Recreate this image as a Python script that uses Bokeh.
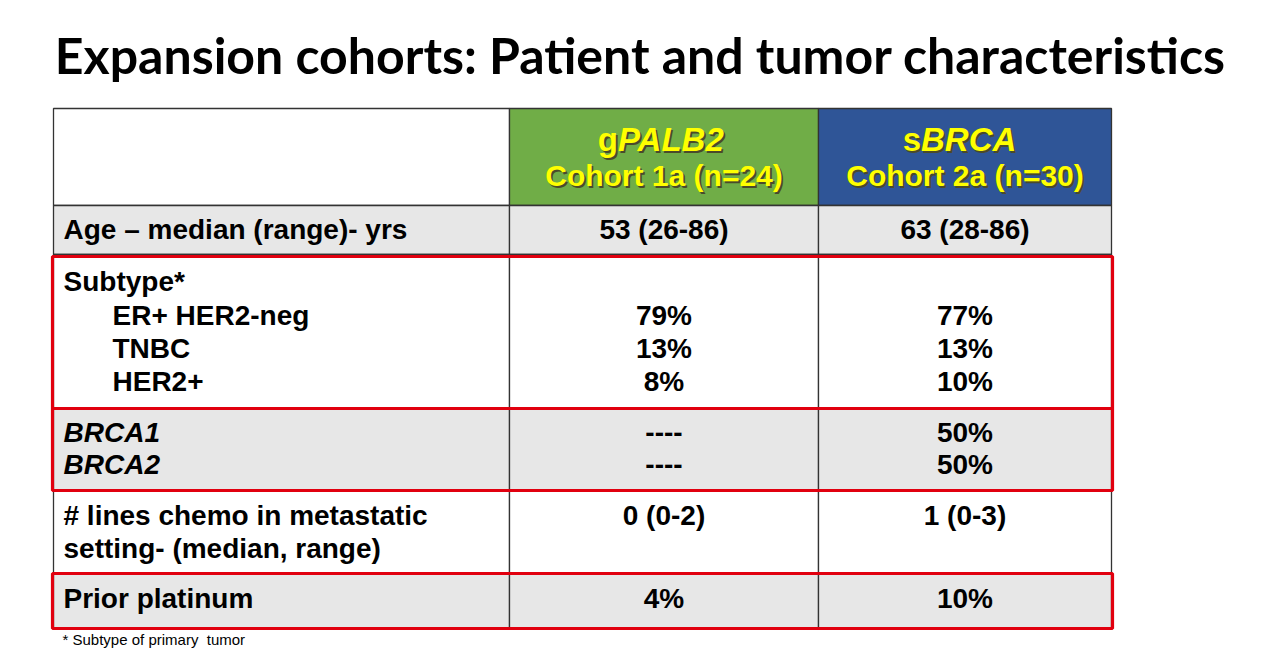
from bokeh.plotting import figure
from bokeh.models import Range1d
from bokeh.core.properties import value
from bokeh.embed import file_html
from bokeh.resources import INLINE

# ---------------- data ----------------
title = "Expansion cohorts: Patient and tumor characteristics"
cohort_prefix = ["g", "s"]
cohort_gene = ["PALB2", "BRCA"]
cohort_sub = ["Cohort 1a (n=24)", "Cohort 2a (n=30)"]
age_label = "Age \u2013 median (range)- yrs"
age_values = ["53 (26-86)", "63 (28-86)"]
subtype_header = "Subtype*"
subtypes = ["ER+ HER2-neg", "TNBC", "HER2+"]
subtype_pct_palb2 = [79, 13, 8]
subtype_pct_sbrca = [77, 13, 10]
brca_genes = ["BRCA1", "BRCA2"]
brca_palb2 = ["----", "----"]
brca_sbrca = [50, 50]
lines_label = ["# lines chemo in metastatic", "setting- (median, range)"]
lines_values = ["0 (0-2)", "1 (0-3)"]
platinum_label = "Prior platinum"
platinum_pct = [4, 10]
footnote = "* Subtype of primary\u00a0 tumor"

# ---------------- layout ----------------
W, H = 1255, 649
p = figure(width=W, height=H, output_backend="svg", toolbar_location=None,
           x_range=Range1d(0, W), y_range=Range1d(H, 0), min_border=0)
p.axis.visible = False
p.grid.visible = False
p.outline_line_color = None
p.background_fill_color = "white"
p.border_fill_color = "white"

col_edges = [53, 509, 818, 1111]
row_edges = [108, 205, 254, 408, 490, 573, 628]
col_c = [(col_edges[1] + col_edges[2]) / 2, (col_edges[2] + col_edges[3]) / 2]

GREY = "#E7E7E7"
row_fill = ["white", GREY, "white", GREY, "white", GREY]
head_fill = ["white", "#70AD47", "#2F5597"]

L, R, T, B, F = [], [], [], [], []
for r in range(len(row_edges) - 1):
    for c in range(len(col_edges) - 1):
        L.append(col_edges[c]); R.append(col_edges[c + 1])
        T.append(row_edges[r]); B.append(row_edges[r + 1])
        F.append(head_fill[c] if r == 0 else row_fill[r])
p.quad(left=L, right=R, top=T, bottom=B, fill_color=F,
       line_color="#333333", line_width=1.3)

# red highlight boxes
red_rows = [(256, 408), (408, 490), (573, 628)]
p.quad(left=[52] * 3, right=[1112] * 3, top=[a for a, b in red_rows],
       bottom=[b for a, b in red_rows], fill_alpha=0, line_color="#E1000F",
       line_width=3.2)

BODY = value("Liberation Sans")

def txt(x, y, s, size="28px", align="left", style="bold", color="black",
        font=BODY, baseline="middle"):
    p.text(x=x, y=y, text=s, text_font=font, text_font_size=size,
           text_font_style=style, text_color=color, text_align=align,
           text_baseline=baseline)

# title
txt([640], [54], [title], size="50px", align="center", font=value("Lato"))

# header
YEL = "#FFFF00"
for i, c in enumerate(col_c):
    split = c - 46 if i == 0 else c - 44
    for dx, col in [(1.8, "#4a4a2a"), (0, YEL)]:
        txt([split + dx], [139 + dx], [cohort_prefix[i]], size="33px",
            align="right", color=col)
        txt([split + dx], [139 + dx], [cohort_gene[i]], size="33px",
            align="left", style="bold italic", color=col)
        txt([c + dx], [175 + dx], [cohort_sub[i]], size="30px",
            align="center", color=col)

# age row
txt([63], [229], [age_label])
txt(col_c, [229, 229], age_values, align="center")

# subtype
txt([63], [281], [subtype_header])
sub_y = [315, 348, 381]
txt([112] * 3, sub_y, subtypes)
txt([col_c[0]] * 3, sub_y, [f"{v}%" for v in subtype_pct_palb2], align="center")
txt([col_c[1]] * 3, sub_y, [f"{v}%" for v in subtype_pct_sbrca], align="center")

# BRCA
brca_y = [432, 464]
txt([63] * 2, brca_y, brca_genes, style="bold italic")
txt([col_c[0]] * 2, brca_y, brca_palb2, align="center")
txt([col_c[1]] * 2, brca_y, [f"{v}%" for v in brca_sbrca], align="center")

# lines chemo
txt([63] * 2, [515, 548], lines_label)
txt(col_c, [515, 515], lines_values, align="center")

# prior platinum
txt([63], [598], [platinum_label])
txt(col_c, [598, 598], [f"{v}%" for v in platinum_pct], align="center")

# footnote
txt([62], [647], [footnote], size="15px", style="normal", baseline="bottom")

open("out.html", "w").write(file_html(p, INLINE))
